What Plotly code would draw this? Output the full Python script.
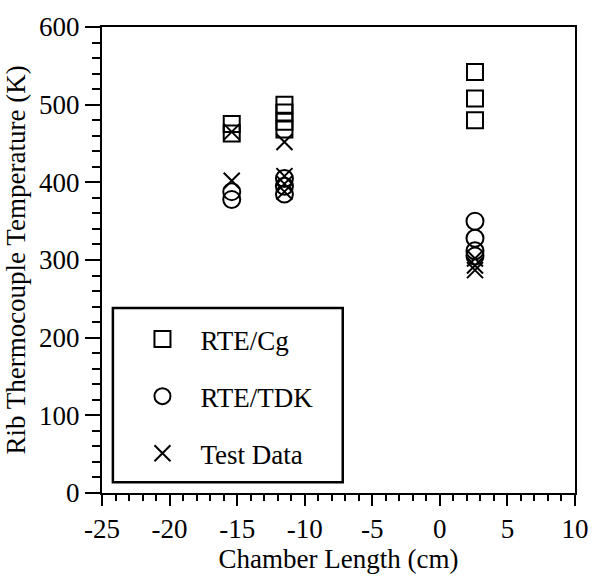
import plotly.graph_objects as go

# Data
cg_x = [-15.4, -15.4, -11.5, -11.5, -11.5, -11.5, 2.6, 2.6, 2.6]
cg_y = [475, 463, 500, 490, 478, 468, 542, 508, 480]
tdk_x = [-15.4, -15.4, -11.5, -11.5, -11.5, 2.6, 2.6, 2.6, 2.6]
tdk_y = [388, 378, 405, 395, 385, 350, 328, 312, 305]
test_x = [-15.4, -15.4, -11.5, -11.5, -11.5, -11.5, 2.6, 2.6, 2.6]
test_y = [465, 402, 452, 408, 398, 388, 302, 293, 287]

series_names = ["RTE/Cg", "RTE/TDK", "Test Data"]

x_tickvals = [-25, -20, -15, -10, -5, 0, 5, 10]
x_ticktext = ["-25", "-20", "-15", "-10", "-5", "0", "5", "10"]
y_tickvals = [0, 100, 200, 300, 400, 500, 600]
y_ticktext = ["0", "100", "200", "300", "400", "500", "600"]

FONT = "Liberation Serif"

fig = go.Figure()
fig.add_trace(go.Scatter(x=cg_x, y=cg_y, mode="markers", name=series_names[0],
                         legendgroup="a",
                         marker=dict(symbol="square-open", size=16, color="black",
                                     line=dict(width=2, color="black"))))
fig.add_trace(go.Scatter(x=tdk_x, y=tdk_y, mode="markers", name=series_names[1],
                         legendgroup="b",
                         marker=dict(symbol="circle-open", size=17, color="black",
                                     line=dict(width=2, color="black"))))
fig.add_trace(go.Scatter(x=test_x, y=test_y, mode="markers", name=series_names[2],
                         legendgroup="c",
                         marker=dict(symbol="x-thin-open", size=16, color="black",
                                     line=dict(width=2, color="black"))))

axis_common = dict(showline=True, linecolor="black", linewidth=2, mirror=True,
                   showgrid=False, zeroline=False, ticks="outside",
                   tickwidth=2, tickcolor="black",
                   tickfont=dict(family=FONT, size=27, color="black"))

fig.update_xaxes(range=[-25, 10], tickmode="array", tickvals=x_tickvals, ticktext=x_ticktext,
                 ticklen=11,
                 minor=dict(dtick=1, tick0=-25, ticks="outside", ticklen=6, tickwidth=1.5, tickcolor="black"),
                 title=dict(text="Chamber Length (cm)", font=dict(family=FONT, size=27, color="black"),
                            standoff=4),
                 **axis_common)
fig.update_yaxes(range=[0, 600], tickmode="array", tickvals=y_tickvals, ticktext=y_ticktext,
                 ticklen=15,
                 minor=dict(dtick=20, tick0=0, ticks="outside", ticklen=8, tickwidth=1.5, tickcolor="black"),
                 title=dict(text="Rib Thermocouple Temperature (K)", font=dict(family=FONT, size=27, color="black"),
                            standoff=6),
                 **axis_common)

# Legend frame
fig.add_shape(type="rect", xref="paper", yref="paper", x0=0.023, x1=0.509, y0=0.023, y1=0.397,
              line=dict(color="black", width=2.5), fillcolor="rgba(0,0,0,0)")

fig.update_layout(
    width=601, height=582,
    margin=dict(l=102, r=15, t=15, b=89),
    paper_bgcolor="white", plot_bgcolor="white",
    font=dict(family=FONT, size=26, color="black"),
    legend=dict(x=0.0475, y=0.382, xanchor="left", yanchor="top",
                bgcolor="rgba(0,0,0,0)", borderwidth=0,
                font=dict(family=FONT, size=27, color="black"),
                tracegroupgap=19, itemwidth=66),
    showlegend=True,
)

fig.write_html("out.html")
